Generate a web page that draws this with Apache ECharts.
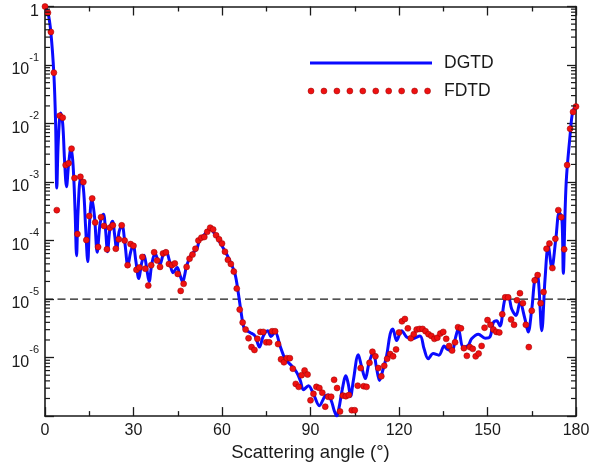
<!DOCTYPE html>
<html>
<head>
<meta charset="utf-8">
<script src="https://cdn.jsdelivr.net/npm/echarts@6/dist/echarts.min.js"></script>
<style>
  html, body { margin: 0; padding: 0; background: #fff; }
  #chart { width: 613px; height: 467px; }
</style>
</head>
<body>
<div id="chart"></div>
<script>
// DGTD solution: scattering angle (deg) and normalised RCS
const dgtdAngle = [
  0, 1, 2, 3, 3.6, 4.0, 4.5, 5.3, 6.0, 6.6,
  7.3, 8.0, 8.8, 9.5, 10.2, 10.7, 11.2, 12.1, 13.0, 13.8,
  14.5, 15.1, 15.9, 16.8, 17.7, 18.7, 19.8, 20.5, 21.2, 22.0,
  22.9, 23.6, 24.3, 25.1, 26.1, 27.1, 28.1, 29.0, 29.9, 30.8,
  31.8, 32.7, 33.6, 34.4, 35.3, 36.2, 37.3, 38.2, 39.0, 40.0,
  41.0, 42.2, 43.4, 44.8, 45.7, 46.7, 47.3, 48.0, 49.7, 51.4,
  52.3, 54.2, 55.9, 57.6, 59.3, 61.0, 62.7, 64.4, 65.5, 66.4,
  67.2, 67.8, 69.5, 71.2, 72.7, 74.0, 75.5, 76.6, 78.0, 79.7,
  81.4, 83.6, 85.3, 86.6, 87.6, 89.3, 91.0, 93.0, 94.9, 96.0,
  97.2, 98.0, 98.9, 99.7, 100.6, 102.0, 102.8, 103.6, 104.5, 106.2,
  107.3, 108.6, 109.8, 111.3, 112.3, 113.4, 114.6, 115.8, 117.0, 117.9,
  119.2, 120.9, 122.6, 124.3, 127.1, 128.5, 129.9, 131.6, 133.5, 135.3,
  136.2, 137.9, 139.2, 140.1, 141.8, 143.5, 144.6, 146.9, 149.2, 150.8,
  152.0, 153.1, 154.2, 155.9, 157.1, 158.2, 159.7, 161.0, 162.7, 163.8,
  165.0, 166.4, 167.2, 168.4, 169.5, 170.6, 171.8, 173.2, 174.3, 175.2,
  175.7, 176.3, 176.8, 178.0, 178.9, 180
];
const dgtdValue = [
  1, 7.94e-1, 3.55e-1, 7.08e-2, 1.0e-2, 7.94e-4, 5.01e-3, 1.51e-2, 1.0e-2, 2.51e-3,
  8.32e-4, 2.0e-3, 3.80e-3, 2.0e-3, 3.16e-4, 5.50e-5, 3.16e-4, 1.17e-3, 7.94e-4, 1.58e-4,
  4.37e-5, 2.0e-4, 5.25e-4, 2.51e-4, 6.31e-5, 2.0e-4, 2.82e-4, 1.58e-4, 6.46e-5, 1.58e-4,
  2.14e-4, 1.26e-4, 6.92e-5, 1.41e-4, 1.82e-4, 8.91e-5, 3.72e-5, 6.31e-5, 8.32e-5, 4.47e-5,
  2.24e-5, 3.98e-5, 5.62e-5, 3.55e-5, 2.0e-5, 3.98e-5, 6.03e-5, 4.79e-5, 3.98e-5, 5.62e-5,
  6.61e-5, 4.47e-5, 2.82e-5, 3.47e-5, 2.63e-5, 1.95e-5, 2.51e-5, 3.72e-5, 5.89e-5, 7.08e-5,
  9.77e-5, 1.29e-4, 1.58e-4, 1.29e-4, 9.33e-5, 6.61e-5, 4.47e-5, 2.69e-5, 1.29e-5, 6.31e-6,
  3.55e-6, 3.02e-6, 2.69e-6, 2.34e-6, 1.51e-6, 2.34e-6, 2.88e-6, 2.29e-6, 2.75e-6, 1.58e-6,
  9.55e-7, 7.24e-7, 5.62e-7, 3.98e-7, 2.82e-7, 3.31e-7, 2.40e-7, 1.51e-7, 2.19e-7, 2.29e-7,
  1.74e-7, 1.26e-7, 1.0e-7, 1.41e-7, 2.57e-7, 4.90e-7, 3.55e-7, 2.19e-7, 3.98e-7, 1.12e-6,
  7.08e-7, 4.37e-7, 7.94e-7, 1.23e-6, 7.08e-7, 4.07e-7, 6.31e-7, 1.07e-6, 2.51e-6, 3.09e-6,
  1.95e-6, 2.88e-6, 2.24e-6, 2.09e-6, 2.34e-6, 1.41e-6, 9.55e-7, 1.17e-6, 1.10e-6, 1.58e-6,
  1.41e-6, 1.32e-6, 2.24e-6, 3.09e-6, 1.51e-6, 1.62e-6, 2.09e-6, 2.51e-6, 2.14e-6, 2.24e-6,
  3.98e-6, 4.27e-6, 3.47e-6, 1.0e-5, 1.07e-5, 6.76e-6, 5.25e-6, 8.71e-6, 4.57e-6, 2.75e-6,
  6.76e-6, 2.34e-5, 2.24e-5, 2.88e-6, 2.19e-5, 8.13e-5, 3.47e-5, 1.12e-4, 3.02e-4, 2.45e-4,
  2.75e-5, 3.16e-4, 1.26e-3, 6.31e-3, 1.62e-2, 2.0e-2
];

// FDTD solution, one sample per degree from 0 to 180
const fdtdValue = [
  1, 7.83e-1, 3.68e-1, 7.41e-2, 3.31e-4, 1.36e-2, 1.26e-2, 1.95e-3, 2.09e-3, 3.72e-3,
  1.17e-3, 1.29e-4, 1.23e-3, 1.0e-3, 1.02e-4, 2.63e-4, 5.25e-4, 2.04e-4, 7.76e-5, 2.51e-4,
  1.78e-4, 7.08e-5, 1.66e-4, 1.82e-4, 7.24e-5, 1.05e-4, 1.82e-4, 1.0e-4, 3.80e-5, 8.71e-5,
  8.13e-5, 3.16e-5, 3.47e-5, 5.25e-5, 3.31e-5, 1.70e-5, 3.80e-5, 6.31e-5, 4.57e-5, 3.55e-5,
  6.03e-5, 6.31e-5, 3.98e-5, 3.80e-5, 4.07e-5, 2.69e-5, 1.38e-5, 1.82e-5, 3.55e-5, 4.90e-5,
  5.75e-5, 7.24e-5, 1.0e-4, 1.12e-4, 1.15e-4, 1.41e-4, 1.66e-4, 1.55e-4, 1.23e-4, 1.05e-4,
  8.91e-5, 6.46e-5, 4.68e-5, 3.98e-5, 2.95e-5, 1.51e-5, 6.61e-6, 3.98e-6, 3.02e-6, 2.14e-6,
  1.51e-6, 1.35e-6, 2.09e-6, 2.75e-6, 2.75e-6, 1.82e-6, 1.82e-6, 2.82e-6, 2.82e-6, 1.70e-6,
  9.33e-7, 8.32e-7, 9.77e-7, 9.77e-7, 6.46e-7, 3.55e-7, 3.16e-7, 5.01e-7, 6.03e-7, 5.13e-7,
  1.86e-7, 2.40e-7, 3.16e-7, 3.02e-7, 2.51e-7, 1.45e-7, 2.14e-7, 2.14e-7, 4.17e-7, 3.02e-7,
  1.20e-7, 2.24e-7, 2.19e-7, 2.29e-7, 1.26e-7, 1.26e-7, 3.31e-7, 6.61e-7, 3.24e-7, 3.16e-7,
  8.13e-7, 1.26e-6, 1.05e-6, 6.61e-7, 4.79e-7, 7.24e-7, 9.55e-7, 1.15e-6, 1.05e-6, 1.38e-6,
  2.69e-6, 4.17e-6, 4.57e-6, 3.16e-6, 2.14e-6, 2.51e-6, 3.02e-6, 3.09e-6, 3.09e-6, 2.82e-6,
  2.51e-6, 2.34e-6, 2.09e-6, 2.19e-6, 2.57e-6, 2.75e-6, 2.09e-6, 1.58e-6, 1.32e-6, 1.82e-6,
  3.31e-6, 3.16e-6, 1.45e-6, 1.07e-6, 1.51e-6, 1.41e-6, 1.05e-6, 1.17e-6, 1.58e-6, 3.24e-6,
  4.37e-6, 3.63e-6, 3.02e-6, 2.75e-6, 2.69e-6, 5.50e-6, 1.07e-5, 1.07e-5, 4.47e-6, 3.63e-6,
  9.55e-6, 1.26e-5, 8.51e-6, 3.63e-6, 1.51e-6, 6.31e-6, 2.09e-5, 2.57e-5, 8.51e-6, 1.32e-5,
  7.24e-5, 8.91e-5, 3.39e-5, 1.07e-4, 3.31e-4, 2.51e-4, 7.08e-5, 1.95e-3, 8.13e-3, 1.58e-2,
  1.95e-2
];

const xMin = 0, xMax = 180, xStep = 30;
const yMinExp = -7, yMaxExp = 0;
const referenceLevel = 1e-5;
const seriesNames = ['DGTD', 'FDTD'];
const xAxisTitle = 'Scattering angle (\u00B0)';

const FONT = '"Liberation Sans", Arial, Helvetica, sans-serif';
const INK = '#1a1a1a';
const BLUE = '#0a0aff';
const RED = '#ee1111';

const chart = echarts.init(document.getElementById('chart'), null, { renderer: 'canvas' });

const dgtdData = dgtdAngle.map((a, i) => [a, dgtdValue[i]]);
const fdtdData = fdtdValue.map((v, i) => [i, v]);
const refLineData = [[xMin, referenceLevel], [xMax, referenceLevel]];

// log-axis minor ticks (2..9 within each decade)
const minorTickValues = [];
for (let e = yMinExp; e < yMaxExp; e++) {
  for (let k = 2; k <= 9; k++) minorTickValues.push([xMin, k * Math.pow(10, e)]);
}

function yLabel(v) {
  const e = Math.round(Math.log10(v));
  if (e === yMinExp) return '';
  if (e === 0) return '{b|1}';
  return '{b|10}{s|' + e + '}';
}

const axisLine = { show: true, onZero: false, lineStyle: { color: INK, width: 1.6 } };

const option = {
  animation: false,
  backgroundColor: '#fff',
  grid: { left: 45, right: 37, top: 6.5, bottom: 49.5, containLabel: false },
  xAxis: [
    {
      type: 'value', min: xMin, max: xMax, interval: xStep, position: 'bottom',
      axisLine: axisLine,
      axisTick: { show: true, inside: true, length: 9, lineStyle: { color: INK, width: 1.3 } },
      minorTick: { show: true, splitNumber: 2, length: 5, lineStyle: { color: INK, width: 1.3 } },
      splitLine: { show: false },
      axisLabel: { color: INK, fontSize: 16, fontFamily: FONT, margin: 6 },
      name: xAxisTitle, nameLocation: 'middle', nameGap: 23,
      nameTextStyle: { color: INK, fontSize: 18.5, fontFamily: FONT }
    },
    {
      type: 'value', min: xMin, max: xMax, interval: xStep, position: 'top',
      axisLine: axisLine,
      axisTick: { show: true, inside: true, length: 9, lineStyle: { color: INK, width: 1.3 } },
      minorTick: { show: true, splitNumber: 2, length: 5, lineStyle: { color: INK, width: 1.3 } },
      splitLine: { show: false },
      axisLabel: { show: false }
    }
  ],
  yAxis: [
    {
      type: 'log', logBase: 10, min: Math.pow(10, yMinExp), max: Math.pow(10, yMaxExp), interval: 1,
      position: 'left',
      axisLine: axisLine,
      axisTick: { show: true, inside: true, length: 9, lineStyle: { color: INK, width: 1.3 } },
      splitLine: { show: false },
      axisLabel: {
        margin: 6, color: INK, fontFamily: FONT,
        formatter: yLabel,
        rich: {
          b: { fontSize: 16, fontFamily: FONT, color: INK, padding: [10, 0, 0, 0] },
          s: { fontSize: 11, fontFamily: FONT, color: INK, verticalAlign: 'top' }
        }
      }
    },
    {
      type: 'log', logBase: 10, min: Math.pow(10, yMinExp), max: Math.pow(10, yMaxExp), interval: 1,
      position: 'right',
      axisLine: axisLine,
      axisTick: { show: true, inside: true, length: 9, lineStyle: { color: INK, width: 1.3 } },
      splitLine: { show: false },
      axisLabel: { show: false }
    }
  ],
  series: [
    {
      name: 'minorTicks', type: 'custom', xAxisIndex: 0, yAxisIndex: 0, silent: true, z: 5,
      clip: false,
      data: minorTickValues,
      encode: { x: 0, y: 1 },
      renderItem: function (params, api) {
        const v = api.value(1);
        const pl = api.coord([xMin, v]);
        const pr = api.coord([xMax, v]);
        const st = { stroke: INK, lineWidth: 1.2 };
        return {
          type: 'group',
          children: [
            { type: 'line', shape: { x1: pl[0], y1: pl[1], x2: pl[0] + 5, y2: pl[1] }, style: st },
            { type: 'line', shape: { x1: pr[0] - 5, y1: pr[1], x2: pr[0], y2: pr[1] }, style: st }
          ]
        };
      }
    },
    {
      name: 'reference', type: 'line', data: refLineData, silent: true, z: 1,
      showSymbol: false, symbol: 'none',
      lineStyle: { color: INK, type: [8, 4.5], width: 1.3 }
    },
    {
      name: seriesNames[0], type: 'line', data: dgtdData, smooth: 0.35,
      showSymbol: false, symbol: 'none', clip: true, z: 2,
      lineStyle: { color: BLUE, width: 3 }
    },
    {
      name: seriesNames[1], type: 'scatter', data: fdtdData, z: 3,
      symbol: 'circle', symbolSize: 6,
      itemStyle: { color: RED, borderColor: '#9a0000', borderWidth: 0.5, opacity: 1 }
    }
  ],
  graphic: [
    { type: 'line', shape: { x1: 310, y1: 63, x2: 432, y2: 63 }, style: { stroke: BLUE, lineWidth: 3 } },
    { type: 'text', x: 444, y: 63, style: { text: seriesNames[0], fill: INK, fontSize: 17.5, fontFamily: FONT, verticalAlign: 'middle' } },
    { type: 'text', x: 444, y: 91, style: { text: seriesNames[1], fill: INK, fontSize: 17.5, fontFamily: FONT, verticalAlign: 'middle' } }
  ].concat(Array.from({ length: 10 }, (_, i) => ({
    type: 'circle', shape: { cx: 311 + i * 12.95, cy: 91, r: 3 },
    style: { fill: RED, stroke: '#9a0000', lineWidth: 0.5 }
  })))
};

chart.setOption(option);
</script>
</body>
</html>
